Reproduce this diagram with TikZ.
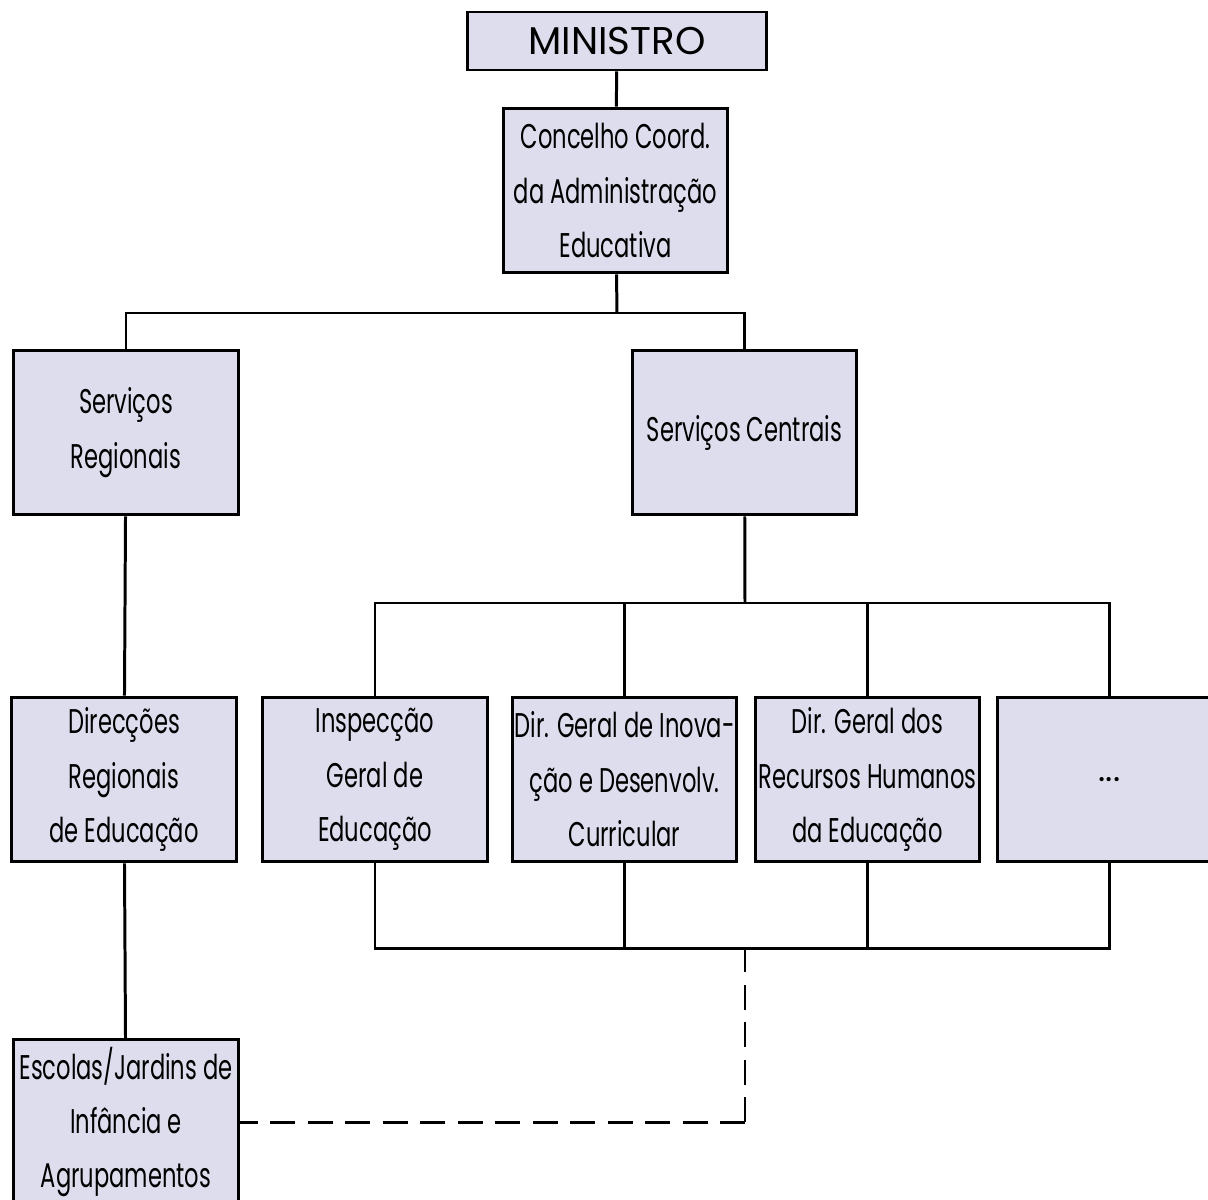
\documentclass[tikz,border=0pt]{standalone}
\usepackage{fontspec}
\setmainfont{Poppins}[FakeStretch=0.66]
\newfontfamily\wideface{Poppins}
\usetikzlibrary{positioning}
\definecolor{boxlilac}{RGB}{221, 221, 238}

\begin{document}
\begin{tikzpicture}[x=0.02cm, y=-0.02cm,
    unit/.style={draw, line width=1.7pt, fill=boxlilac, minimum width=4.5cm, minimum height=3.3cm,
      align=center, inner sep=1pt, font=\fontsize{19.5}{31}\selectfont},
    link/.style={line width=1.7pt},
    dashlink/.style={line width=1.7pt, dash pattern=on 0.5cm off 0.25cm}]
  \useasboundingbox (0,0) rectangle (1208,1200);

  % Top of the hierarchy
  \node[draw, line width=1.7pt, fill=boxlilac, minimum width=6cm, minimum height=1.16cm,
    font=\wideface\fontsize{22}{26}\selectfont] (ministro) at (617,41) {MINISTRO};
  \node[unit] (conselho) at (615.5,190.5) {Concelho Coord.\\da Administração\\Educativa};

  % Second level
  \node[unit] (regionais) at (126,432.5) {Serviços\\Regionais};
  \node[unit] (centrais) at (744.5,432.5) {Serviços Centrais};

  % Central services
  \node[unit] (inspeccao) at (375,779.5) {Inspecção\\Geral de\\Educação};
  \node[unit] (inovacao) at (624.5,779.5) {Dir. Geral de Inova-\\ção e Desenvolv.\\Curricular};
  \node[unit] (recursos) at (867.5,779.5) {Dir. Geral dos\\Recursos Humanos\\da Educação};
  \node[unit] (outros) at (1109.5,779.5) {\wideface ...};

  % Regional services
  \node[unit] (direccoes) at (124,779.5) {Direcções\\Regionais\\de Educação};
  \node[unit] (escolas) at (126,1122) {Escolas/Jardins de\\Infância e\\Agrupamentos};

  % Junctions
  \coordinate (topbus) at (617,313);
  \coordinate (midbus) at (745,603);
  \coordinate (lowbus) at (745,948);
  \coordinate (bend) at (lowbus |- escolas.east);

  % Connectors
  \draw[link] (ministro) -- (conselho);
  \draw[link] (conselho) -- (topbus);
  \draw[link] (regionais.north) |- (topbus) -| (centrais.north);
  \draw[link] (centrais) -- (midbus);
  \draw[link] (inspeccao.north) |- (midbus) -| (outros.north);
  \draw[link] (inovacao.north) -- (inovacao.north |- midbus);
  \draw[link] (recursos.north) -- (recursos.north |- midbus);
  \draw[link] (inspeccao.south) |- (lowbus) -| (outros.south);
  \draw[link] (inovacao.south) -- (inovacao.south |- lowbus);
  \draw[link] (recursos.south) -- (recursos.south |- lowbus);
  \draw[link] (regionais) -- (direccoes);
  \draw[link] (direccoes) -- (escolas);
  \draw[dashlink] (bend) -- (lowbus);
  \draw[dashlink] (bend) -- (escolas.east);
\end{tikzpicture}
\end{document}
